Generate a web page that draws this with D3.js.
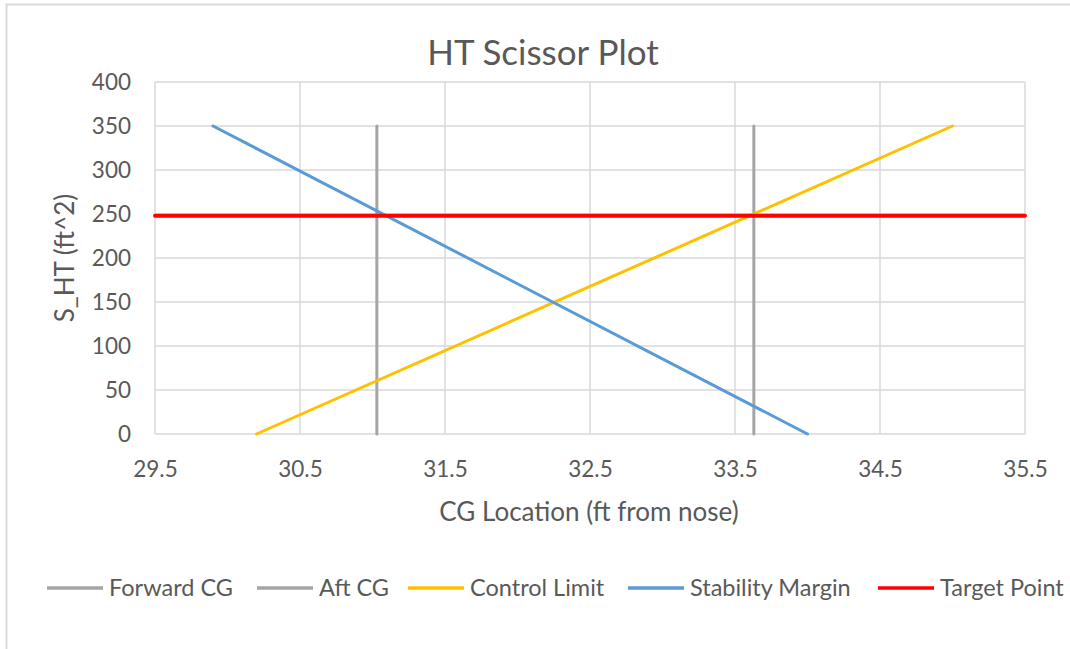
<!DOCTYPE html>
<html>
<head>
<meta charset="utf-8">
<script src="https://cdn.jsdelivr.net/npm/d3@7"></script>
<style>
  html, body { margin: 0; padding: 0; background: #fff; }
  svg { display: block; }
  text { font-family: Lato, "Open Sans", sans-serif; fill: #595959; }
</style>
</head>
<body>
<svg id="chart" width="1070" height="649"></svg>
<script>
// Scissor plot data: CG location (ft from nose) vs horizontal tail area (ft^2)
const xTicks = [29.5, 30.5, 31.5, 32.5, 33.5, 34.5, 35.5];
const yTicks = [0, 50, 100, 150, 200, 250, 300, 350, 400];

const forwardCG = [{x: 31.03, y: 0}, {x: 31.03, y: 350}];
const aftCG = [{x: 33.63, y: 0}, {x: 33.63, y: 350}];
const controlLimit = [{x: 30.2, y: 0}, {x: 35.0, y: 350}];
const stabilityMargin = [{x: 29.9, y: 350}, {x: 34.0, y: 0}];
const targetPoint = [{x: 29.5, y: 248}, {x: 35.5, y: 248}];

const seriesNames = ["Forward CG", "Aft CG", "Control Limit", "Stability Margin", "Target Point"];
const seriesData = [forwardCG, aftCG, controlLimit, stabilityMargin, targetPoint];
const seriesColors = ["#A5A5A5", "#A5A5A5", "#FFC000", "#5B9BD5", "#FF0000"];
const seriesWidths = [3, 3, 3, 3, 4];

const svg = d3.select("#chart");

// chart frame
svg.append("rect")
  .attr("x", 6.5).attr("y", 4.5)
  .attr("width", 1100).attr("height", 700)
  .attr("fill", "#fff").attr("stroke", "#D9D9D9").attr("stroke-width", 2);

const plot = {left: 155, right: 1025, top: 82, bottom: 434};

const x = d3.scaleLinear().domain([29.5, 35.5]).range([plot.left, plot.right]);
const y = d3.scaleLinear().domain([0, 400]).range([plot.bottom, plot.top]);

// gridlines
const grid = svg.append("g");
grid.selectAll("line.v").data(xTicks).join("line")
  .attr("x1", d => x(d)).attr("x2", d => x(d))
  .attr("y1", plot.top).attr("y2", plot.bottom)
  .attr("stroke", "#D9D9D9").attr("stroke-width", 1.5);
grid.selectAll("line.h").data(yTicks).join("line")
  .attr("x1", plot.left).attr("x2", plot.right)
  .attr("y1", d => y(d)).attr("y2", d => y(d))
  .attr("stroke", "#D9D9D9").attr("stroke-width", 1.5);

// axes (labels only; lines come from the gridlines)
const xAxis = svg.append("g")
  .attr("transform", `translate(0,${plot.bottom})`)
  .call(d3.axisBottom(x).tickValues(xTicks).tickFormat(d3.format(".1f")).tickSize(0).tickPadding(27));
const yAxis = svg.append("g")
  .attr("transform", `translate(${plot.left},0)`)
  .call(d3.axisLeft(y).tickValues(yTicks).tickSize(0).tickPadding(24));
[xAxis, yAxis].forEach(a => {
  a.select(".domain").remove();
  a.selectAll("text").attr("font-size", 22.5).attr("fill", "#595959")
    .style("font-family", "Lato, 'Open Sans', sans-serif");
});

// series lines
const line = d3.line().x(d => x(d.x)).y(d => y(d.y));
svg.append("g").selectAll("path").data(seriesData).join("path")
  .attr("d", line)
  .attr("fill", "none")
  .attr("stroke", (d, i) => seriesColors[i])
  .attr("stroke-width", (d, i) => seriesWidths[i])
  .attr("stroke-linecap", "round");

// title
svg.append("text")
  .attr("x", 543).attr("y", 65)
  .attr("text-anchor", "middle")
  .attr("font-size", 35)
  .text("HT Scissor Plot");

// axis titles
svg.append("text")
  .attr("x", 589).attr("y", 521)
  .attr("text-anchor", "middle")
  .attr("font-size", 26)
  .text("CG Location (ft from nose)");
svg.append("text")
  .attr("transform", "translate(74,258) rotate(-90)")
  .attr("text-anchor", "middle")
  .attr("font-size", 26)
  .text("S_HT (ft^2)");

// legend
const legendX = [47, 257, 408, 628, 878];
const legend = svg.append("g");
seriesNames.forEach((name, i) => {
  const g = legend.append("g").attr("transform", `translate(${legendX[i]},588)`);
  g.append("line").attr("x1", 0).attr("x2", 56).attr("y1", 0).attr("y2", 0)
    .attr("stroke", seriesColors[i]).attr("stroke-width", 3.5);
  g.append("text").attr("x", 62).attr("y", 8).attr("font-size", 23.5).text(name);
});
</script>
</body>
</html>
